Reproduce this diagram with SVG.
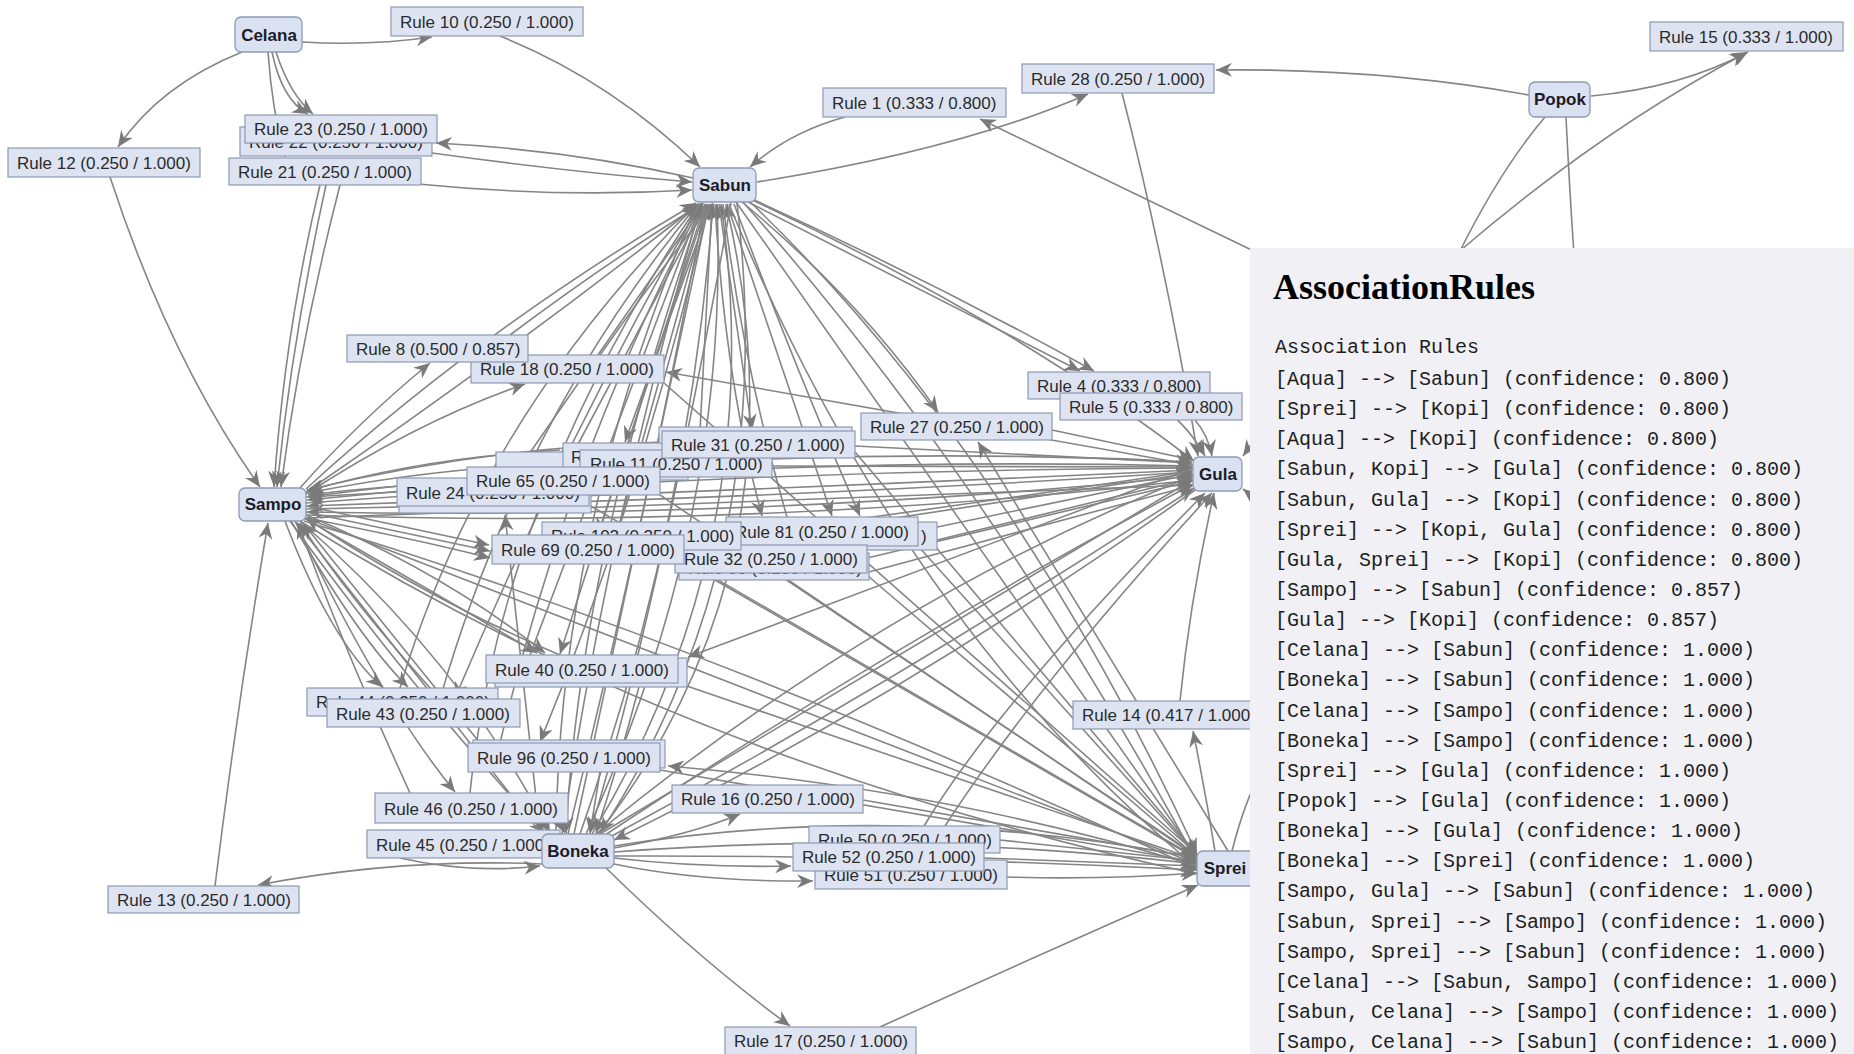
<svg xmlns="http://www.w3.org/2000/svg" width="1854" height="1054" viewBox="0 0 1854 1054">
<defs>
<marker id="ah" markerUnits="userSpaceOnUse" markerWidth="18" markerHeight="14" refX="16" refY="7" orient="auto">
<path d="M0,0 L16,7 L0,14 L5,7 Z" fill="#7a7a7a"/>
</marker>
<style>
.e{fill:none;stroke:#858585;stroke-width:1.6;marker-end:url(#ah)}
.l{fill:none;stroke:#858585;stroke-width:1.6}
.rb{fill:#dde3f1;stroke:#8e99b4;stroke-width:1.2}
.ib{fill:#dae1f1;stroke:#8d9ab7;stroke-width:1.3}
.rt{font-family:"Liberation Sans",Arial,sans-serif;font-size:17px;fill:#2b2b2b}
.it{font-family:"Liberation Sans",Arial,sans-serif;font-size:17px;font-weight:bold;fill:#1c1c28;text-anchor:middle}
.mono{font-family:"Liberation Mono","Courier New",monospace;font-size:20px;fill:#1e1e1e}
.h1{font-family:"Liberation Serif","Times New Roman",serif;font-size:36px;font-weight:bold;fill:#000}
</style>
</defs>
<rect width="1854" height="1054" fill="#ffffff"/>

<!-- connectors -->
<g id="edges">
<!-- upper left -->
<path class="e" d="M302,42 Q370,46 432,37"/>
<path class="e" d="M500,36 Q610,80 700,167"/>
<path class="e" d="M242,52 Q160,85 118,147"/>
<path class="e" d="M110,177 Q170,360 260,487"/>
<path class="e" d="M276,52 Q290,95 313,114"/>
<path class="e" d="M272,52 Q282,100 308,114"/>
<path class="e" d="M268,52 Q272,110 285,157"/>
<path class="e" d="M320,185 Q285,330 274,487"/>
<path class="e" d="M326,185 Q292,340 277,487"/>
<path class="e" d="M340,185 Q300,340 281,487"/>
<path class="e" d="M693,178 Q570,150 436,143"/>
<path class="e" d="M432,153 Q570,172 692,182"/>
<path class="e" d="M418,184 Q560,198 692,190"/>
<path class="e" d="M845,117 Q790,132 750,167"/>
<path class="e" d="M757,182 Q960,150 1088,94"/>
<!-- upper right -->
<path class="e" d="M1529,95 Q1380,68 1216,70"/>
<path class="e" d="M1591,96 Q1680,88 1748,52"/>
<path class="e" d="M1455,255 Q1600,130 1746,53"/>
<path class="l" d="M1545,117 Q1500,170 1458,255"/>
<path class="l" d="M1566,117 Q1569,180 1574,255"/>
<path class="e" d="M1262,255 L980,119"/>
<path class="e" d="M1122,93 Q1165,260 1198,456"/>
<path class="e" d="M748,202 Q910,285 1080,371"/>
<path class="e" d="M752,199 Q930,280 1094,371"/>
<path class="e" d="M1150,399 Q1185,420 1205,456"/>
<path class="e" d="M1195,420 Q1208,435 1212,456"/>
<path class="e" d="M742,202 Q860,300 938,412"/>
<path class="e" d="M1193,465 L666,372"/>
<path class="e" d="M1265,425 L1243,456"/>
<path class="e" d="M1265,506 L1243,489"/>
<!-- Sampo upper -->
<path class="e" d="M300,488 Q360,420 430,363"/>
<path class="e" d="M306,494 Q420,420 525,384"/>
<path class="e" d="M510,335 Q610,260 703,203"/>
<path class="e" d="M600,355 Q660,270 713,203"/>
<path class="e" d="M306,489 Q480,330 696,203"/>
<path class="e" d="M306,492 Q500,360 699,204"/>
<!-- Boneka to Sabun bundle -->
<path class="e" d="M556,834 Q560,520 697,204"/>
<path class="e" d="M562,834 Q610,520 701,204"/>
<path class="e" d="M568,834 Q650,500 705,204"/>
<path class="e" d="M574,834 L709,204"/>
<path class="e" d="M580,834 Q690,520 713,204"/>
<path class="e" d="M586,834 Q730,520 717,204"/>
<path class="e" d="M592,834 Q770,540 721,204"/>
<path class="e" d="M598,834 Q810,560 726,204"/>
<path class="e" d="M731,203 Q660,600 590,833"/>
<path class="e" d="M703,203 Q580,560 566,833"/>
<path class="e" d="M737,203 Q780,560 600,833"/>
<!-- middle rules and Sabun -->
<path class="e" d="M520,467 L703,204"/>
<path class="e" d="M560,478 L706,204"/>
<path class="e" d="M700,431 L712,204"/>
<path class="e" d="M620,522 L708,204"/>
<path class="e" d="M530,655 L701,204"/>
<path class="e" d="M500,743 Q570,450 702,204"/>
<path class="e" d="M440,699 Q520,420 698,204"/>
<path class="e" d="M470,793 Q500,500 699,204"/>
<path class="e" d="M400,688 Q480,420 697,204"/>
<path class="e" d="M715,204 Q725,380 762,516"/>
<path class="e" d="M723,204 Q745,380 795,544"/>
<path class="e" d="M727,204 L832,516"/>
<path class="e" d="M719,204 L752,430"/>
<path class="e" d="M711,204 L625,442"/>
<path class="e" d="M707,204 L598,534"/>
<path class="e" d="M734,204 Q800,380 860,516"/>
<path class="e" d="M705,204 L560,654"/>
<path class="e" d="M709,204 Q640,500 540,742"/>
<path class="e" d="M700,204 Q560,450 455,698"/>
<!-- Sabun to Sprei and Gula -->
<path class="e" d="M736,202 L1197,857"/>
<path class="e" d="M742,201 Q990,480 1197,862"/>
<path class="e" d="M747,199 Q1010,450 1197,854"/>
<path class="e" d="M729,204 Q900,620 1197,868"/>
<path class="e" d="M750,199 Q1010,320 1194,461"/>
<!-- Sampo and Gula -->
<path class="e" d="M306,497 Q750,440 1192,462"/>
<path class="e" d="M1193,466 Q750,455 307,500"/>
<path class="e" d="M306,503 Q750,470 1192,468"/>
<path class="e" d="M1193,470 Q760,490 307,506"/>
<path class="e" d="M306,509 Q760,500 1192,472"/>
<path class="e" d="M1193,476 Q760,520 307,512"/>
<path class="e" d="M306,515 Q760,530 1193,480"/>
<path class="e" d="M306,518 L1194,485"/>
<!-- Sampo and middle rules -->
<path class="e" d="M306,506 L489,545"/>
<path class="e" d="M306,512 L490,551"/>
<path class="e" d="M306,518 Q420,540 490,558"/>
<path class="e" d="M397,492 L308,497"/>
<path class="e" d="M468,482 Q380,486 308,495"/>
<path class="e" d="M580,462 Q430,468 308,493"/>
<path class="e" d="M560,450 Q420,458 308,491"/>
<path class="e" d="M662,442 Q480,448 307,490"/>
<path class="e" d="M540,834 Q520,650 505,515"/>
<!-- Sampo and lower rules / Boneka -->
<path class="e" d="M290,521 Q420,700 545,833"/>
<path class="e" d="M544,837 Q420,680 296,522"/>
<path class="e" d="M300,521 Q460,660 550,833"/>
<path class="e" d="M295,521 Q380,700 455,792"/>
<path class="e" d="M285,521 Q330,640 382,687"/>
<path class="e" d="M291,521 Q360,640 408,687"/>
<path class="e" d="M440,699 Q350,600 300,523"/>
<path class="e" d="M480,743 Q380,620 303,523"/>
<path class="e" d="M304,518 Q430,590 537,653"/>
<path class="e" d="M306,515 Q440,570 545,653"/>
<path class="e" d="M560,655 Q430,600 306,518"/>
<path class="e" d="M410,793 Q340,640 298,523"/>
<path class="e" d="M306,518 L1197,864"/>
<path class="e" d="M304,521 Q700,640 1197,869"/>
<path class="e" d="M300,521 Q680,760 1197,874"/>
<!-- Rule 13 and Rule 45 -->
<path class="e" d="M215,886 Q238,700 268,523"/>
<path class="e" d="M542,864 Q400,858 258,885"/>
<path class="e" d="M400,858 Q470,874 540,866"/>
<!-- Gula and Boneka / rules -->
<path class="e" d="M600,834 L1192,480"/>
<path class="e" d="M605,835 Q900,640 1193,484"/>
<path class="e" d="M610,837 Q900,680 1194,488"/>
<path class="e" d="M596,834 Q880,600 1193,476"/>
<path class="e" d="M1195,490 Q900,700 614,840"/>
<path class="e" d="M855,446 L1192,463"/>
<path class="e" d="M773,466 L1192,467"/>
<path class="e" d="M918,531 L1193,474"/>
<path class="e" d="M937,540 L1193,478"/>
<path class="e" d="M867,558 L1193,481"/>
<path class="e" d="M869,572 L1194,485"/>
<path class="e" d="M741,535 Q1000,500 1192,471"/>
<path class="e" d="M1052,430 L1193,460"/>
<path class="e" d="M684,550 Q950,510 1192,473"/>
<path class="e" d="M1193,468 L688,657"/>
<path class="e" d="M924,826 Q1000,700 1205,493"/>
<path class="e" d="M945,826 Q1040,680 1212,493"/>
<path class="e" d="M1228,851 L978,442"/>
<path class="e" d="M1215,851 Q1205,790 1193,731"/>
<path class="e" d="M1180,701 Q1190,600 1214,493"/>
<path class="l" d="M1232,851 Q1245,800 1262,770"/>
<!-- Boneka and Sprei -->
<path class="e" d="M614,858 Q700,868 791,866"/>
<path class="e" d="M614,864 Q700,882 813,881"/>
<path class="e" d="M1007,877 Q1100,880 1197,873"/>
<path class="e" d="M984,858 L1197,866"/>
<path class="e" d="M1000,840 L1197,861"/>
<path class="e" d="M614,848 Q690,835 740,814"/>
<path class="e" d="M863,800 L1197,858"/>
<path class="e" d="M606,868 Q700,960 790,1026"/>
<path class="e" d="M880,1027 Q1050,950 1198,885"/>
<path class="e" d="M614,846 Q900,800 1197,858"/>
<path class="e" d="M614,852 Q900,830 1197,864"/>
<path class="e" d="M614,856 Q900,855 1197,870"/>
<path class="e" d="M1197,866 Q950,790 668,766"/>
<!-- middle rules to Sprei -->
<path class="e" d="M855,452 L1197,855"/>
<path class="e" d="M741,548 L1197,857"/>
<path class="e" d="M684,562 L1197,859"/>
<path class="e" d="M660,495 L1197,856"/>
<path class="e" d="M589,505 L1197,858"/>
<path class="e" d="M678,683 L1197,860"/>
<path class="e" d="M868,576 L1197,857"/>
<path class="e" d="M918,546 L1197,856"/>
<path class="e" d="M664,383 L1197,854"/>
<path class="e" d="M660,770 L1197,862"/>
<!-- lower rules into Boneka -->
<path class="e" d="M560,823 L565,833"/>
<path class="e" d="M600,772 L590,833"/>
<path class="e" d="M640,683 Q620,760 596,833"/>
</g>

<!-- rule nodes -->
<g id="rule10"><rect class="rb" x="391" y="7" width="192" height="29"/><text class="rt" x="400" y="28">Rule 10 (0.250 / 1.000)</text></g>
<g id="rule12"><rect class="rb" x="8" y="148" width="192" height="29"/><text class="rt" x="17" y="169">Rule 12 (0.250 / 1.000)</text></g>
<g id="rule22"><rect class="rb" x="240" y="127" width="192" height="29"/><text class="rt" x="249" y="148">Rule 22 (0.250 / 1.000)</text></g>
<g id="rule23"><rect class="rb" x="245" y="115" width="192" height="28"/><text class="rt" x="254" y="135">Rule 23 (0.250 / 1.000)</text></g>
<g id="rule21"><rect class="rb" x="229" y="158" width="192" height="27"/><text class="rt" x="238" y="178">Rule 21 (0.250 / 1.000)</text></g>
<g id="rule1"><rect class="rb" x="823" y="88" width="183" height="29"/><text class="rt" x="832" y="109">Rule 1 (0.333 / 0.800)</text></g>
<g id="rule28"><rect class="rb" x="1022" y="64" width="192" height="29"/><text class="rt" x="1031" y="85">Rule 28 (0.250 / 1.000)</text></g>
<g id="rule15"><rect class="rb" x="1650" y="22" width="193" height="29"/><text class="rt" x="1659" y="43">Rule 15 (0.333 / 1.000)</text></g>
<g id="rule18"><rect class="rb" x="471" y="355" width="193" height="28"/><text class="rt" x="480" y="375">Rule 18 (0.250 / 1.000)</text></g>
<g id="rule8"><rect class="rb" x="347" y="335" width="181" height="27"/><text class="rt" x="356" y="355">Rule 8 (0.500 / 0.857)</text></g>
<g id="rule4"><rect class="rb" x="1028" y="372" width="182" height="27"/><text class="rt" x="1037" y="392">Rule 4 (0.333 / 0.800)</text></g>
<g id="rule5"><rect class="rb" x="1060" y="393" width="182" height="27"/><text class="rt" x="1069" y="413">Rule 5 (0.333 / 0.800)</text></g>
<g id="rule27"><rect class="rb" x="861" y="413" width="191" height="27"/><text class="rt" x="870" y="433">Rule 27 (0.250 / 1.000)</text></g>
<g id="rule-stack-a"><rect class="rb" x="659" y="427" width="193" height="27"/></g>
<g id="rule-stack-b"><rect class="rb" x="496" y="452" width="192" height="28"/></g>
<g id="rule-stack-c"><rect class="rb" x="563" y="443" width="192" height="27"/><text class="rt" x="571" y="463">R</text></g>
<g id="rule11"><rect class="rb" x="580" y="450" width="192" height="27"/><text class="rt" x="590" y="470">Rule 11 (0.250 / 1.000)</text></g>
<g id="rule31"><rect class="rb" x="662" y="431" width="193" height="27"/><text class="rt" x="671" y="451">Rule 31 (0.250 / 1.000)</text></g>
<g id="rule-stack-d"><rect class="rb" x="399" y="485" width="192" height="28"/></g>
<g id="rule24"><rect class="rb" x="397" y="478" width="192" height="28"/><text class="rt" x="406" y="499">Rule 24 (0.250 / 1.000)</text></g>
<g id="rule65"><rect class="rb" x="467" y="467" width="193" height="28"/><text class="rt" x="476" y="487">Rule 65 (0.250 / 1.000)</text></g>
<g id="rule-stack-e"><rect class="rb" x="743" y="522" width="194" height="28"/><text class="rt" x="921" y="542">)</text></g>
<g id="rule81"><rect class="rb" x="726" y="517" width="192" height="29"/><text class="rt" x="735" y="538">Rule 81 (0.250 / 1.000)</text></g>
<g id="rule33"><rect class="rb" x="679" y="553" width="190" height="27"/><text class="rt" x="688" y="574">Rule 33 (0.250 / 1.000)</text></g>
<g id="rule32"><rect class="rb" x="675" y="545" width="192" height="28"/><text class="rt" x="684" y="565">Rule 32 (0.250 / 1.000)</text></g>
<g id="rule102"><rect class="rb" x="542" y="522" width="199" height="28"/><text class="rt" x="551" y="542">Rule 102 (0.250 / 1.000)</text></g>
<g id="rule69"><rect class="rb" x="492" y="535" width="192" height="29"/><text class="rt" x="501" y="556">Rule 69 (0.250 / 1.000)</text></g>
<g id="rule-stack-f"><rect class="rb" x="495" y="658" width="192" height="29"/></g>
<g id="rule40"><rect class="rb" x="486" y="655" width="192" height="28"/><text class="rt" x="495" y="676">Rule 40 (0.250 / 1.000)</text></g>
<g id="rule44"><rect class="rb" x="307" y="688" width="191" height="28"/><text class="rt" x="316" y="708">Rule 44 (0.250 / 1.000)</text></g>
<g id="rule43"><rect class="rb" x="327" y="699" width="193" height="28"/><text class="rt" x="336" y="720">Rule 43 (0.250 / 1.000)</text></g>
<g id="rule-stack-g"><rect class="rb" x="473" y="740" width="192" height="28"/></g>
<g id="rule96"><rect class="rb" x="468" y="743" width="192" height="29"/><text class="rt" x="477" y="764">Rule 96 (0.250 / 1.000)</text></g>
<g id="rule46"><rect class="rb" x="375" y="793" width="193" height="30"/><text class="rt" x="384" y="815">Rule 46 (0.250 / 1.000)</text></g>
<g id="rule45"><rect class="rb" x="367" y="830" width="193" height="28"/><text class="rt" x="376" y="851">Rule 45 (0.250 / 1.000)</text></g>
<g id="rule13"><rect class="rb" x="108" y="886" width="191" height="27"/><text class="rt" x="117" y="906">Rule 13 (0.250 / 1.000)</text></g>
<g id="rule16"><rect class="rb" x="672" y="785" width="191" height="28"/><text class="rt" x="681" y="805">Rule 16 (0.250 / 1.000)</text></g>
<g id="rule50"><rect class="rb" x="809" y="826" width="191" height="27"/><text class="rt" x="818" y="846">Rule 50 (0.250 / 1.000)</text></g>
<g id="rule51"><rect class="rb" x="815" y="860" width="192" height="29"/><text class="rt" x="824" y="881">Rule 51 (0.250 / 1.000)</text></g>
<g id="rule52"><rect class="rb" x="793" y="843" width="191" height="28"/><text class="rt" x="802" y="863">Rule 52 (0.250 / 1.000)</text></g>
<g id="rule14"><rect class="rb" x="1073" y="701" width="189" height="28"/><text class="rt" x="1082" y="721">Rule 14 (0.417 / 1.000)</text></g>
<g id="rule17"><rect class="rb" x="725" y="1027" width="191" height="29"/><text class="rt" x="734" y="1047">Rule 17 (0.250 / 1.000)</text></g>

<!-- item nodes -->
<g id="celana"><rect class="ib" x="235" y="17" width="67" height="35" rx="6"/><text class="it" x="269" y="41">Celana</text></g>
<g id="sabun"><rect class="ib" x="693" y="168" width="63" height="34" rx="6"/><text class="it" x="725" y="191">Sabun</text></g>
<g id="popok"><rect class="ib" x="1529" y="82" width="61" height="35" rx="6"/><text class="it" x="1560" y="105">Popok</text></g>
<g id="sampo"><rect class="ib" x="239" y="488" width="67" height="33" rx="6"/><text class="it" x="273" y="510">Sampo</text></g>
<g id="gula"><rect class="ib" x="1193" y="457" width="49" height="34" rx="6"/><text class="it" x="1218" y="480">Gula</text></g>
<g id="boneka"><rect class="ib" x="542" y="834" width="72" height="34" rx="6"/><text class="it" x="578" y="857">Boneka</text></g>
<g id="sprei"><rect class="ib" x="1197" y="851" width="66" height="35" rx="6"/><text class="it" x="1225" y="874">Sprei</text></g>

<!-- rules listing panel -->
<g id="rules-panel">
<rect x="1250" y="248" width="604" height="806" fill="#f0f0f5"/>
<text class="h1" x="1273" y="299">AssociationRules</text>
<text class="mono" x="1275" y="353">Association Rules</text>
<text class="mono" x="1275" y="385">[Aqua] --&gt; [Sabun] (confidence: 0.800)</text>
<text class="mono" x="1275" y="415.1">[Sprei] --&gt; [Kopi] (confidence: 0.800)</text>
<text class="mono" x="1275" y="445.3">[Aqua] --&gt; [Kopi] (confidence: 0.800)</text>
<text class="mono" x="1275" y="475.4">[Sabun, Kopi] --&gt; [Gula] (confidence: 0.800)</text>
<text class="mono" x="1275" y="505.6">[Sabun, Gula] --&gt; [Kopi] (confidence: 0.800)</text>
<text class="mono" x="1275" y="535.7">[Sprei] --&gt; [Kopi, Gula] (confidence: 0.800)</text>
<text class="mono" x="1275" y="565.8">[Gula, Sprei] --&gt; [Kopi] (confidence: 0.800)</text>
<text class="mono" x="1275" y="596">[Sampo] --&gt; [Sabun] (confidence: 0.857)</text>
<text class="mono" x="1275" y="626.1">[Gula] --&gt; [Kopi] (confidence: 0.857)</text>
<text class="mono" x="1275" y="656.3">[Celana] --&gt; [Sabun] (confidence: 1.000)</text>
<text class="mono" x="1275" y="686.4">[Boneka] --&gt; [Sabun] (confidence: 1.000)</text>
<text class="mono" x="1275" y="716.5">[Celana] --&gt; [Sampo] (confidence: 1.000)</text>
<text class="mono" x="1275" y="746.7">[Boneka] --&gt; [Sampo] (confidence: 1.000)</text>
<text class="mono" x="1275" y="776.8">[Sprei] --&gt; [Gula] (confidence: 1.000)</text>
<text class="mono" x="1275" y="807">[Popok] --&gt; [Gula] (confidence: 1.000)</text>
<text class="mono" x="1275" y="837.1">[Boneka] --&gt; [Gula] (confidence: 1.000)</text>
<text class="mono" x="1275" y="867.2">[Boneka] --&gt; [Sprei] (confidence: 1.000)</text>
<text class="mono" x="1275" y="897.4">[Sampo, Gula] --&gt; [Sabun] (confidence: 1.000)</text>
<text class="mono" x="1275" y="927.5">[Sabun, Sprei] --&gt; [Sampo] (confidence: 1.000)</text>
<text class="mono" x="1275" y="957.7">[Sampo, Sprei] --&gt; [Sabun] (confidence: 1.000)</text>
<text class="mono" x="1275" y="987.8">[Celana] --&gt; [Sabun, Sampo] (confidence: 1.000)</text>
<text class="mono" x="1275" y="1017.9">[Sabun, Celana] --&gt; [Sampo] (confidence: 1.000)</text>
<text class="mono" x="1275" y="1048.1">[Sampo, Celana] --&gt; [Sabun] (confidence: 1.000)</text>
</g>
</svg>
